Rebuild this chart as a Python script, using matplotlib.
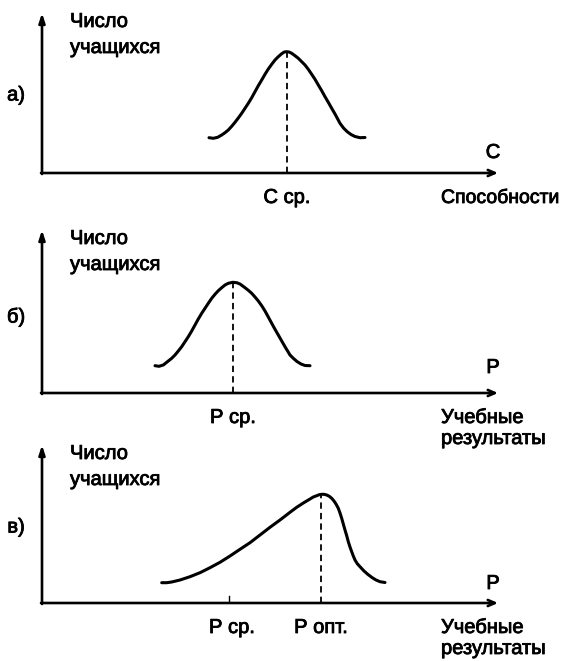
import matplotlib.pyplot as plt
import matplotlib.patheffects as pe

# units: pixels measured from the axis origin of each panel
# panel a (abilities)
a_x = [167.0, 171.3, 175.7, 179.7, 183.0, 186.3, 189.7, 193.0, 196.3, 199.7,
       203.0, 206.3, 209.7, 213.0, 216.3, 219.7, 223.0, 226.3, 229.7, 233.0,
       236.3, 239.7, 242.3, 244.7, 247.0, 249.7, 253.0, 256.3, 259.7, 263.0,
       266.3, 269.7, 273.0, 276.3, 279.7, 283.0, 286.3, 289.7, 293.0, 298.0,
       301.5, 305.0, 309.0, 313.0, 318.0, 323.0]
a_y = [35.3, 34.7, 35.7, 38.0, 40.3, 43.0, 46.7, 50.7, 55.0, 59.7,
       64.7, 69.7, 75.3, 81.3, 87.3, 93.0, 98.7, 104.0, 108.7, 113.0,
       116.3, 119.3, 121.0, 121.3, 121.0, 119.7, 117.3, 114.7, 111.3, 108.0,
       103.7, 98.7, 93.7, 88.0, 82.3, 76.3, 70.7, 64.7, 59.0, 49.7,
       45.0, 41.5, 38.5, 36.5, 35.3, 35.5]
a_mean = 245

# panel b (results, normal)
b_x = [113.0, 117.0, 121.3, 126.3, 129.7, 133.0, 136.3, 139.7, 143.0, 146.3,
       149.7, 153.0, 156.3, 159.7, 163.0, 166.3, 169.7, 173.0, 176.3, 179.7,
       183.0, 186.3, 190.7, 194.7, 198.0, 203.0, 206.3, 209.7, 213.0, 216.3,
       219.7, 223.0, 226.3, 229.7, 233.0, 236.3, 239.7, 243.0, 248.0, 251.5,
       255.0, 259.0, 263.0, 268.0]
b_y = [27.3, 26.7, 28.0, 32.0, 34.7, 38.0, 42.0, 46.3, 51.3, 56.3,
       62.0, 68.0, 74.0, 79.7, 84.7, 89.7, 94.7, 98.7, 102.3, 105.3,
       108.0, 109.7, 110.7, 110.3, 109.0, 105.3, 102.7, 99.7, 96.0, 92.0,
       87.3, 82.0, 76.0, 69.7, 63.7, 58.0, 52.0, 46.3, 38.0, 34.5,
       31.5, 29.0, 27.5, 27.3]
b_mean = 191

# panel c (results, skewed)
c_x = [119.7, 124.7, 129.7, 138.0, 148.0, 158.0, 168.0, 178.0, 188.0, 198.0,
       208.0, 218.0, 228.0, 238.0, 248.0, 254.7, 261.3, 268.0, 271.3, 274.7,
       277.3, 279.7, 282.0, 284.7, 287.3, 289.7, 292.0, 294.0, 296.3, 298.0,
       299.7, 301.3, 303.0, 304.7, 306.3, 308.0, 309.7, 311.3, 313.0, 315.3,
       318.0, 322.0, 326.0, 330.0, 334.0, 338.0, 343.0]
c_y = [20.3, 20.3, 21.0, 23.0, 26.3, 30.3, 35.3, 40.7, 47.0, 53.7,
       60.3, 68.0, 75.7, 83.0, 90.7, 95.7, 100.0, 104.0, 106.0, 107.3,
       108.3, 108.7, 108.7, 108.0, 106.7, 104.7, 102.0, 99.0, 94.7, 90.0,
       84.7, 79.0, 73.0, 67.3, 61.3, 56.0, 51.3, 47.0, 43.0, 39.3,
       36.3, 32.0, 28.5, 25.5, 23.0, 21.3, 20.5]
c_mean = 187
c_opt = 279

FIG_W, FIG_H = 573, 661
plt.rcParams['font.family'] = ['Liberation Sans', 'DejaVu Sans']
fig = plt.figure(figsize=(FIG_W / 100, FIG_H / 100), dpi=100)

FS = 14.5
AX_LEN = 456
INK = [pe.withStroke(linewidth=0.6, foreground='black')]


def txt(ax, x, y, s, **kw):
    kw.setdefault('fontsize', FS)
    ax.text(x, y, s, path_effects=INK, **kw)


def panel(top, bottom, origin_y, y_len, letter, letter_y, xs, ys, dash_x,
          axis_letter, axis_letter_dy, mean_lbl, mean_x, right_lbl, right_fs=FS):
    ax = fig.add_axes([0, 1 - bottom / FIG_H, 1, (bottom - top) / FIG_H])
    ax.set_xlim(-42, FIG_W - 42)
    ax.set_ylim(origin_y - bottom, origin_y - top)
    ax.axis('off')
    # axis arrows
    ax.annotate('', xy=(0, y_len), xytext=(0, -1),
                arrowprops=dict(arrowstyle='-|>,head_width=0.18,head_length=0.55',
                                lw=1.9, color='black', shrinkA=0, shrinkB=0))
    ax.annotate('', xy=(AX_LEN, 0), xytext=(-1, 0),
                arrowprops=dict(arrowstyle='->,head_width=0.22,head_length=0.5',
                                lw=1.9, color='black', shrinkA=0, shrinkB=0))
    ax.plot(xs, ys, color='black', lw=2.2, solid_capstyle='round',
            solid_joinstyle='round')
    ax.plot([dash_x, dash_x], [0, max(ys)], color='black', lw=1.3,
            linestyle=(0, (3.5, 2.3)))
    txt(ax, 28, y_len - 14, 'Число', ha='left', va='baseline')
    txt(ax, 28, y_len - 40, 'учащихся', ha='left', va='baseline')
    txt(ax, -26, letter_y, letter, ha='center', va='center')
    txt(ax, 451, axis_letter_dy, axis_letter, ha='center', va='baseline')
    for lbl, x in zip(mean_lbl, mean_x):
        txt(ax, x, -30, lbl, ha='center', va='baseline')
    for i, line in enumerate(right_lbl):
        txt(ax, 399, -30 - 21 * i, line, ha='left', va='baseline',
            fontsize=right_fs)
    return ax


panel(0, 215, 173, 160, 'а)', 78, a_x, a_y, a_mean, 'С', 15,
      ['С ср.'], [a_mean], ['Способности'], right_fs=14)
panel(215, 430, 393, 163, 'б)', 76, b_x, b_y, b_mean, 'Р', 20,
      ['Р ср.'], [b_mean], ['Учебные', 'результаты'])
axc = panel(430, 661, 603, 158, 'в)', 76, c_x, c_y, c_opt, 'Р', 14,
            ['Р ср.', 'Р опт.'], [c_mean + 3, c_opt], ['Учебные', 'результаты'])
axc.plot([c_mean, c_mean], [2, 7], color='black', lw=1.0)

fig.savefig('out.png', dpi=100)
